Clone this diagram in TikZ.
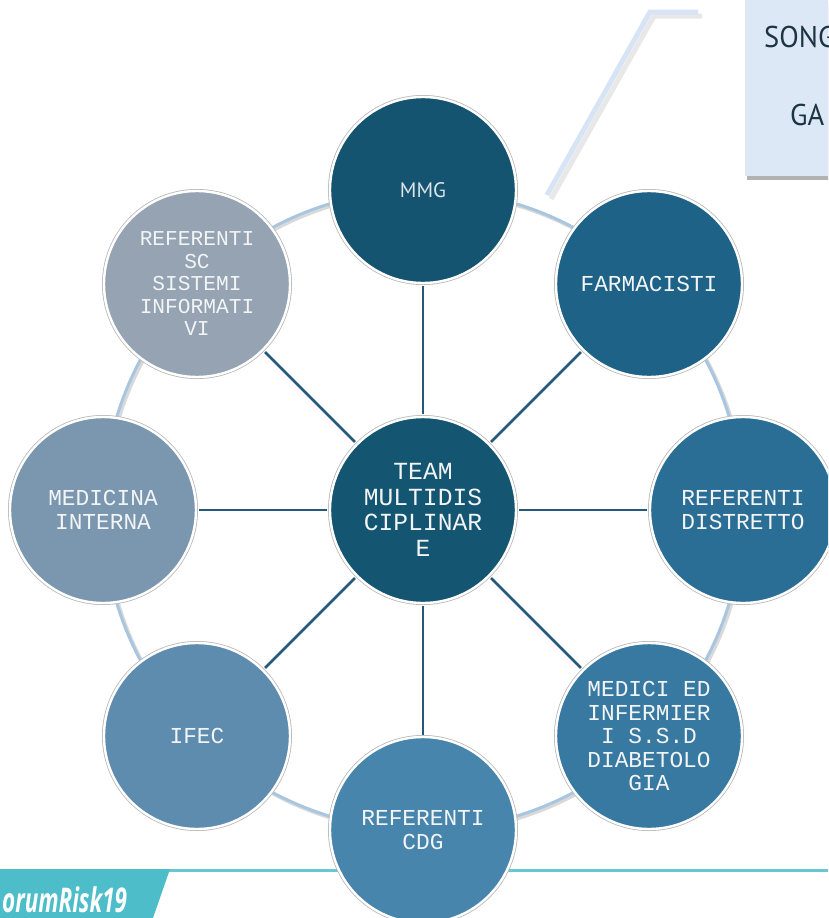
\documentclass[tikz,border=0pt]{standalone}
\usepackage{fontspec}
\setmainfont{Liberation Serif}
\newfontfamily\monofont{Liberation Mono}
\newfontfamily\sansfont{Open Sans}
\newfontfamily\ptfont{PT Sans}
\definecolor{cMMG}{HTML}{145470}
\definecolor{cCenter}{HTML}{145571}
\definecolor{cFarm}{HTML}{1F6287}
\definecolor{cDist}{HTML}{2A6E95}
\definecolor{cMed}{HTML}{3779A0}
\definecolor{cCdg}{HTML}{4785AC}
\definecolor{cIfec}{HTML}{5E8CAF}
\definecolor{cInt}{HTML}{7A97AF}
\definecolor{cSc}{HTML}{95A3B3}
\definecolor{ringblue}{HTML}{A9C6E1}
\definecolor{spoke}{HTML}{23597A}
\definecolor{calloutfill}{HTML}{DCE8F5}
\definecolor{calloutline}{HTML}{D6E4F5}
\definecolor{callouttext}{HTML}{1D3445}
\definecolor{teal}{HTML}{4DBDC9}
\definecolor{txt}{HTML}{F2F4F6}
\tikzset{
  bubble/.style={circle, minimum size=186pt, inner sep=0pt, align=center,
    text=txt, draw=white, line width=2.4pt,
    preaction={draw=black!28, line width=4pt},
    font=\monofont\fontsize{22.8}{23.5}\selectfont},
  spokeline/.style={draw=spoke, line width=2.6pt},
}
\begin{document}
\begin{tikzpicture}[x=1pt,y=-1pt]
\useasboundingbox (0,0) rectangle (828,918);
\clip (0,0) rectangle (828,918);
\fill[white] (0,0) rectangle (828,918);
% callout line
\draw[black!9, line width=5pt, line join=miter] (551,199) -- (654,16) -- (702,16);
\draw[calloutline, line width=5pt, line join=miter] (547,195) -- (650,12) -- (698,12);
% callout box
\fill[black!30] (747,4) rectangle (840,180);
\fill[calloutfill] (745,-5) rectangle (840,176);
\node[anchor=west, text=callouttext, inner sep=0pt] (songtext) at (764,37)
  {\scalebox{0.95}[1]{\ptfont\fontsize{30}{30}\selectfont SONG}};
\node[anchor=west, text=callouttext, inner sep=0pt] (gatext) at (790,115)
  {\scalebox{0.95}[1]{\ptfont\fontsize{30}{30}\selectfont GA}};
% ring
\draw[black!15, line width=3.5pt] (425,512) circle (320);
\draw[ringblue, line width=3pt] (423,510) circle (320);
% nodes
\coordinate (c) at (423,510);
\node[bubble, fill=cCenter, font=\monofont\fontsize{24.6}{25.7}\selectfont] (center) at (c) {TEAM\\MULTIDIS\\CIPLINAR\\E};
\node[bubble, fill=cMMG, text=white!85!cMMG, font=\ptfont\fontsize{21}{22}\selectfont] (mmg) at (423,190) {MMG};
\node[bubble, fill=cFarm] (farm) at (649,284) {FARMACISTI};
\node[bubble, fill=cDist] (dist) at (743,510) {REFERENTI\\DISTRETTO};
\node[bubble, fill=cMed] (med) at (649,736) {MEDICI ED\\INFERMIER\\I S.S.D\\DIABETOLO\\GIA};
\node[bubble, fill=cIfec] (ifec) at (197,736) {IFEC};
\node[bubble, fill=cInt] (int) at (103,510) {MEDICINA\\INTERNA};
\node[bubble, fill=cSc, font=\monofont\fontsize{21.2}{22.5}\selectfont] (sc) at (197,284) {REFERENTI\\SC\\SISTEMI\\INFORMATI\\VI};
\coordinate (cdgc) at (423,830);
\foreach \n in {mmg,farm,dist,med,ifec,int,sc}{
  \draw[spokeline, shorten <=2pt, shorten >=2pt] (center) -- (\n);
}
\draw[spokeline, shorten <=2pt] (center) -- (423,737);
% banner
\fill[white] (0,866) rectangle (828,869);
\draw[teal!85!white, line width=3.5pt] (0,870.5) -- (828,870.5);
\fill[teal] (0,869) -- (170,869) -- (153,918) -- (0,918) -- cycle;
\node[anchor=south west, inner sep=0pt, text=white] (forum) at (2,913)
  {\scalebox{0.66}[1]{\sansfont\bfseries\itshape\fontsize{34}{34}\selectfont orumRisk19}};
% referenti cdg bubble over the banner line
\node[bubble, fill=cCdg] (cdg) at (cdgc) {REFERENTI\\CDG};
\end{tikzpicture}
\end{document}
